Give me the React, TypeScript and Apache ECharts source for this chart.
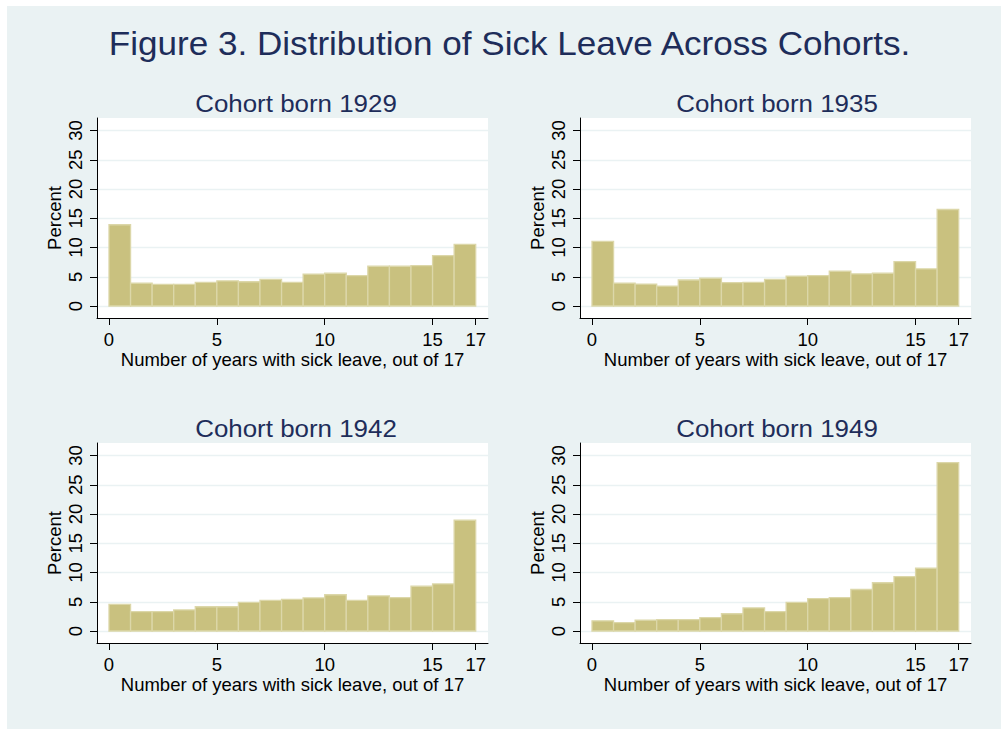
import React, { useEffect, useRef } from "react";
import * as echarts from "echarts";

const binStarts = [0, 1, 2, 3, 4, 5, 6, 7, 8, 9, 10, 11, 12, 13, 14, 15, 16];
const cohortTitles = ["Cohort born 1929", "Cohort born 1935", "Cohort born 1942", "Cohort born 1949"];
const cohort1929 = [13.9, 3.9, 3.7, 3.7, 4.05, 4.3, 4.15, 4.55, 4.05, 5.45, 5.6, 5.2, 6.8, 6.8, 6.9, 8.6, 10.55];
const cohort1935 = [11.05, 3.9, 3.75, 3.4, 4.45, 4.75, 4.0, 4.05, 4.55, 5.1, 5.2, 5.95, 5.5, 5.6, 7.6, 6.35, 16.5];
const cohort1942 = [4.55, 3.3, 3.3, 3.6, 4.15, 4.15, 4.9, 5.25, 5.4, 5.65, 6.2, 5.25, 6.0, 5.7, 7.65, 8.05, 18.95];
const cohort1949 = [1.75, 1.45, 1.85, 1.95, 1.95, 2.3, 2.95, 3.95, 3.3, 4.9, 5.55, 5.7, 7.1, 8.25, 9.3, 10.75, 28.8];
const xTicks = [0, 5, 10, 15, 17];
const yTicks = [0, 5, 10, 15, 20, 25, 30];
const mainTitle = "Figure 3. Distribution of Sick Leave Across Cohorts.";
const xName = "Number of years with sick leave, out of 17";
const yName = "Percent";

const FONT = "'Liberation Sans', Arial, Helvetica, sans-serif";
const BG = "#EAF2F3";
const NAVY = "#1E2D5A";
const BAR = "#C9C17F";
const BAR_EDGE = "#DCD7A9";

const panels = [
  { left: 90, top: 112, cx: 289, ty: 97 },
  { left: 573, top: 112, cx: 770, ty: 97 },
  { left: 90, top: 437, cx: 289, ty: 422 },
  { left: 573, top: 437, cx: 770, ty: 422 },
];

export default function App() {
  const ref = useRef<HTMLDivElement>(null);
  useEffect(() => {
    if (!ref.current) return;
    const chart = echarts.init(ref.current, undefined, { renderer: "svg" });
    const all = [cohort1929, cohort1935, cohort1942, cohort1949];
    const grids = panels.map((p) => ({
      left: p.left,
      top: p.top,
      width: 391,
      height: 200,
      show: true,
      backgroundColor: "#ffffff",
      borderWidth: 0,
      containLabel: false,
    }));
    const xAxes = panels.map((_, i) => ({
      type: "value",
      gridIndex: i,
      min: -0.556,
      max: 17.57,
      axisLine: { show: true, onZero: false, lineStyle: { color: "#000", width: 1 } },
      axisTick: { show: true, length: 7, lineStyle: { color: "#000" }, customValues: xTicks },
      axisLabel: {
        show: true,
        customValues: xTicks,
        color: "#000",
        fontSize: 18.5,
        fontFamily: FONT,
        margin: 12,
        showMinLabel: true,
        showMaxLabel: true,
      },
      splitLine: { show: false },
      name: xName,
      nameLocation: "middle",
      nameGap: 31,
      nameTextStyle: { color: "#000", fontSize: 18.5, fontFamily: FONT },
    }));
    const yAxes = panels.map((_, i) => ({
      type: "value",
      gridIndex: i,
      min: -2.05,
      max: 32.15,
      axisLine: { show: true, onZero: false, lineStyle: { color: "#000", width: 1 } },
      axisTick: { show: true, length: 7, lineStyle: { color: "#000" }, customValues: yTicks },
      axisLabel: {
        show: true,
        customValues: yTicks,
        rotate: 90,
        color: "#000",
        fontSize: 18.5,
        fontFamily: FONT,
        margin: 12,
      },
      splitLine: { show: true, lineStyle: { color: BG, width: 1.3 } },
      name: yName,
      nameLocation: "middle",
      nameGap: 33,
      nameTextStyle: { color: "#000", fontSize: 18.5, fontFamily: FONT },
    }));
    const series = all.map((vals, i) => ({
      type: "custom",
      xAxisIndex: i,
      yAxisIndex: i,
      encode: { x: [0, 1], y: 2 },
      data: binStarts.map((b, k) => [b, b + 1, vals[k]]),
      renderItem: (params: any, api: any) => {
        const p0 = api.coord([api.value(0), api.value(2)]);
        const p1 = api.coord([api.value(1), 0]);
        return {
          type: "rect",
          shape: { x: p0[0], y: p0[1], width: p1[0] - p0[0], height: p1[1] - p0[1] },
          style: { fill: BAR, stroke: BAR_EDGE, lineWidth: 1.3 },
        };
      },
    }));
    const graphic = [
      {
        type: "text",
        x: 502.5,
        y: 37,
        scaleX: 1.08,
        style: {
          text: mainTitle,
          x: 0,
          y: 0,
          align: "center",
          verticalAlign: "middle",
          fill: NAVY,
          fontSize: 32.5,
          fontFamily: FONT,
        },
      },
      ...panels.map((p, i) => ({
        type: "text",
        x: p.cx,
        y: p.ty,
        scaleX: 1.08,
        style: {
          text: cohortTitles[i],
          x: 0,
          y: 0,
          align: "center",
          verticalAlign: "middle",
          fill: NAVY,
          fontSize: 24,
          fontFamily: FONT,
        },
      })),
    ];
    chart.setOption({
      animation: false,
      backgroundColor: BG,
      grid: grids,
      xAxis: xAxes,
      yAxis: yAxes,
      series,
      graphic,
    } as any);
    return () => chart.dispose();
  }, []);
  return (
    <div
      ref={ref}
      style={{ position: "fixed", left: 7, top: 6, width: 994, height: 723 }}
    />
  );
}
